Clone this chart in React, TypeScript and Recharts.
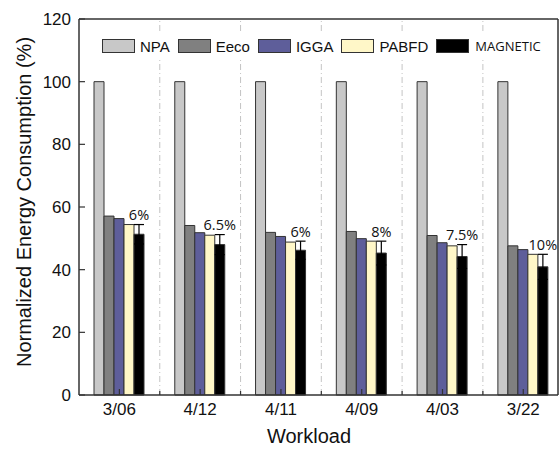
import { BarChart, Bar, XAxis, YAxis, ReferenceLine, ErrorBar, LabelList, Legend } from 'recharts';

const workloads = ['3/06', '4/12', '4/11', '4/09', '4/03', '3/22'];
const npa = [100, 100, 100, 100, 100, 100];
const eeco = [57.1, 54.1, 51.9, 52.2, 50.9, 47.6];
const igga = [56.3, 51.8, 50.6, 49.9, 48.6, 46.4];
const pabfd = [54.4, 51.0, 48.8, 49.1, 47.6, 44.9];
const magnetic = [51.3, 48.0, 46.2, 45.3, 44.2, 40.9];
const magneticErr = [3.1, 3.2, 2.9, 3.8, 3.8, 4.0];
const savings = ['6%', '6.5%', '6%', '8%', '7.5%', '10%'];

const yTicks = [0, 20, 40, 60, 80, 100, 120];
const xTicks = [1, 1.5, 2, 2.5, 3, 3.5, 4, 4.5, 5, 5.5, 6];
const dividers = [1.5, 2.5, 3.5, 4.5, 5.5];
const X_MAX = 6.43;

const series = [
  { key: 'NPA', color: '#c8c8c8' },
  { key: 'Eeco', color: '#808080' },
  { key: 'IGGA', color: '#5e5e9a' },
  { key: 'PABFD', color: '#fff7c8' },
  { key: 'MAGNETIC', color: '#000000' },
];

const data = workloads.map((w, i) => ({
  x: i + 1,
  name: w,
  NPA: npa[i],
  Eeco: eeco[i],
  IGGA: igga[i],
  PABFD: pabfd[i],
  MAGNETIC: magnetic[i],
  err: magneticErr[i],
  saving: savings[i],
}));

const AXIS = '#333333';
const FONT = '"Liberation Sans", Arial, sans-serif';

function XTick(props: any) {
  const { x, y, payload } = props;
  const v = payload.value;
  const isMajor = Number.isInteger(v);
  return (
    <g>
      <line x1={x} x2={x} y1={y} y2={y - (isMajor ? 6 : 4)} stroke={AXIS} strokeWidth={1.2} />
      {isMajor && (
        <text x={x} y={y + 20} textAnchor="middle" fontSize={17} fontFamily={FONT} fill="#111">
          {workloads[v - 1]}
        </text>
      )}
    </g>
  );
}

function YTick(props: any) {
  const { x, y, payload } = props;
  return (
    <g>
      <line x1={x} x2={x + 6} y1={y} y2={y} stroke={AXIS} strokeWidth={1.2} />
      <text x={x - 8} y={y + 6} textAnchor="end" fontSize={17} fontFamily={FONT} fill="#111">
        {payload.value}
      </text>
    </g>
  );
}

function SavingLabel(props: any) {
  const { x, y, width, height, index } = props;
  const d = data[index];
  const pxPerUnit = height / d.MAGNETIC;
  const capY = y - d.err * pxPerUnit;
  return (
    <text
      x={x + width / 2}
      y={capY - 4.5}
      textAnchor="middle"
      fontSize={14.5}
      fontFamily='"Open Sans", sans-serif'
      fill="#111"
    >
      {d.saving}
    </text>
  );
}

function LegendBox() {
  return (
    <div
      style={{
        display: 'flex',
        alignItems: 'center',
        background: '#fff',
        height: 26,
        paddingLeft: 6,
      }}
    >
      {series.map((s) => (
        <div key={s.key} style={{ display: 'flex', alignItems: 'center', marginRight: 8 }}>
          <div
            style={{
              width: 31,
              height: 12,
              background: s.color,
              border: '1px solid #333',
              marginRight: s.key === 'MAGNETIC' ? 6 : 5,
            }}
          />
          <span
            style={
              s.key === 'MAGNETIC'
                ? { fontFamily: '"Open Sans", sans-serif', fontSize: 13, color: '#111' }
                : { fontFamily: FONT, fontSize: 15, color: '#111' }
            }
          >
            {s.key}
          </span>
        </div>
      ))}
    </div>
  );
}

export default function App() {
  return (
    <div style={{ position: 'absolute', left: 0, top: 0, width: 559, height: 449, background: '#fff' }}>
      <BarChart
        width={559}
        height={449}
        data={data}
        margin={{ top: 19, right: 1, bottom: 24, left: 19 }}
        barGap={0}
        barSize={10}
      >
        {dividers.map((d) => (
          <ReferenceLine key={d} x={d} stroke="#c4c4c4" strokeWidth={1} strokeDasharray="6 3 1 3" />
        ))}
        <ReferenceLine y={120} stroke={AXIS} strokeWidth={1.5} />
        <ReferenceLine x={X_MAX} stroke={AXIS} strokeWidth={1.5} />
        <XAxis
          dataKey="x"
          type="number"
          domain={[0.5, X_MAX]}
          allowDataOverflow
          ticks={xTicks}
          interval={0}
          height={30}
          tickSize={0}
          tickMargin={0}
          tickLine={false}
          axisLine={{ stroke: AXIS, strokeWidth: 1.5 }}
          tick={<XTick />}
          label={(p: any) => (
            <text x={309} y={443} textAnchor="middle" fontSize={20} fontFamily={FONT} fill="#111">
              Workload
            </text>
          )}
        />
        <YAxis
          domain={[0, 120]}
          ticks={yTicks}
          interval={0}
          width={60}
          tickSize={0}
          tickMargin={0}
          tickLine={false}
          axisLine={{ stroke: AXIS, strokeWidth: 1.5 }}
          tick={<YTick />}
          label={(p: any) => (
            <text
              x={24}
              y={202}
              textAnchor="middle"
              dominantBaseline="central"
              transform="rotate(-90 24 202)"
              fontSize={20}
              fontFamily={FONT}
              fill="#111"
            >
              Normalized Energy Consumption (%)
            </text>
          )}
        />
        <Legend
          layout="horizontal"
          verticalAlign="middle"
          align="center"
          content={<LegendBox />}
          wrapperStyle={{ left: 96, top: 33, width: 452, height: 26 }}
        />
        {series.map((s) => (
          <Bar
            key={s.key}
            dataKey={s.key}
            fill={s.color}
            stroke="#333"
            strokeWidth={1}
            isAnimationActive={false}
          >
            {s.key === 'MAGNETIC' && (
              <ErrorBar dataKey="err" direction="y" width={5} stroke="#000" strokeWidth={1.2} />
            )}
            {s.key === 'MAGNETIC' && <LabelList dataKey="saving" content={<SavingLabel />} />}
          </Bar>
        ))}
      </BarChart>
    </div>
  );
}
